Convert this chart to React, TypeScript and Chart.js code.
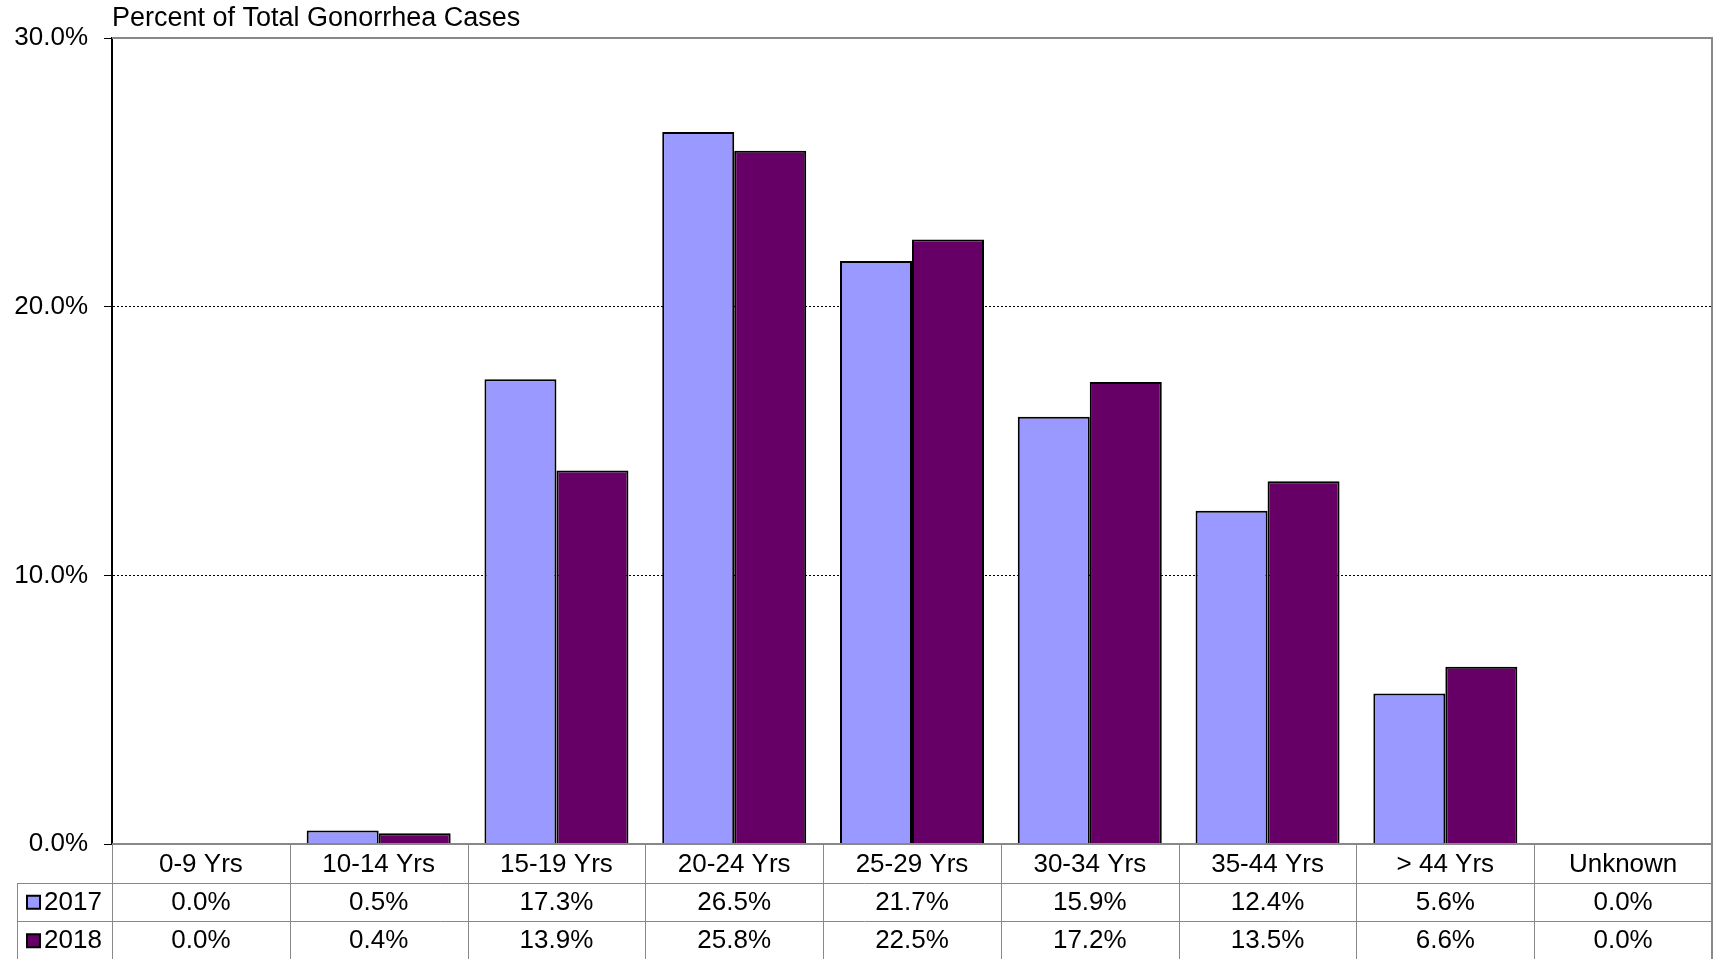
import React, { useEffect, useRef } from 'react';
import { Chart, registerables } from 'chart.js';

Chart.register(...registerables);

const categories = ['0-9 Yrs', '10-14 Yrs', '15-19 Yrs', '20-24 Yrs', '25-29 Yrs', '30-34 Yrs', '35-44 Yrs', '> 44 Yrs', 'Unknown'];
const values2017 = [0.0, 0.5, 17.3, 26.5, 21.7, 15.9, 12.4, 5.6, 0.0];
const values2018 = [0.0, 0.4, 13.9, 25.8, 22.5, 17.2, 13.5, 6.6, 0.0];
const seriesLabels = ['2017', '2018'];
const seriesColors = ['#9999FF', '#660066'];
const yTicks = [0, 10, 20, 30];
const titleText = 'Percent of Total Gonorrhea Cases';

const FONT = 'Arial, "Liberation Sans", Helvetica, sans-serif';
const GRAY = '#888888';
const FS = 26;

const tablePlugin = {
  id: 'dataTable',
  afterDraw(chart: any) {
    const { ctx, chartArea } = chart;
    const x = chart.scales.x;
    const left = chartArea.left;
    const right = chartArea.right;
    const top = chartArea.top;
    const bottom = chartArea.bottom;
    const rowH = 38.5;
    const labelLeft = 17;
    const H = chart.height;
    const series = [values2017, values2018];

    ctx.save();
    // plot border (top, right, bottom)
    ctx.strokeStyle = GRAY;
    ctx.lineWidth = 2;
    ctx.beginPath();
    ctx.moveTo(left, top);
    ctx.lineTo(right, top);
    ctx.lineTo(right, H);
    ctx.stroke();
    ctx.beginPath();
    ctx.moveTo(left, bottom);
    ctx.lineTo(right, bottom);
    ctx.stroke();

    // table grid
    ctx.lineWidth = 1;
    ctx.strokeStyle = GRAY;
    const catW = (right - left) / categories.length;
    for (let i = 0; i <= categories.length; i++) {
      const cx = Math.round(left + i * catW) + 0.5;
      ctx.beginPath();
      ctx.moveTo(cx, bottom);
      ctx.lineTo(cx, H);
      ctx.stroke();
    }
    for (let r = 1; r <= 2; r++) {
      const yy = Math.round(bottom + r * rowH) + 0.5;
      ctx.beginPath();
      ctx.moveTo(labelLeft, yy);
      ctx.lineTo(right, yy);
      ctx.stroke();
    }
    ctx.beginPath();
    ctx.moveTo(labelLeft + 0.5, Math.round(bottom + rowH));
    ctx.lineTo(labelLeft + 0.5, H);
    ctx.stroke();

    // text
    ctx.fillStyle = '#000';
    ctx.font = `${FS}px ${FONT}`;
    ctx.textAlign = 'center';
    ctx.textBaseline = 'middle';
    categories.forEach((c, i) => {
      const cx = x.getPixelForValue(i);
      ctx.fillText(c, cx, bottom + rowH / 2 + 2);
      series.forEach((vals, s) => {
        ctx.fillText(vals[i].toFixed(1) + '%', cx, bottom + rowH * (s + 1) + rowH / 2 + 1);
      });
    });

    // legend keys in table
    ctx.textAlign = 'left';
    seriesLabels.forEach((lab, s) => {
      const cy = bottom + rowH * (s + 1) + rowH / 2;
      ctx.fillStyle = seriesColors[s];
      ctx.fillRect(27, cy - 6, 13, 13);
      ctx.strokeStyle = '#000';
      ctx.lineWidth = 2;
      ctx.strokeRect(27, cy - 6, 13, 13);
      ctx.fillStyle = '#000';
      ctx.fillText(lab, 44, cy + 1);
    });

    // title
    ctx.font = `27px ${FONT}`;
    ctx.textAlign = 'left';
    ctx.textBaseline = 'middle';
    ctx.fillText(titleText, 112, 19);
    ctx.restore();
  },
};

export default function App() {
  const canvasRef = useRef<HTMLCanvasElement | null>(null);

  useEffect(() => {
    document.body.style.margin = '0';
    const canvas = canvasRef.current;
    if (!canvas) return;
    const chart = new Chart(canvas, {
      type: 'bar',
      data: {
        labels: categories,
        datasets: [
          {
            label: seriesLabels[0],
            data: values2017,
            backgroundColor: seriesColors[0],
            borderColor: '#000',
            borderWidth: 2,
          },
          {
            label: seriesLabels[1],
            data: values2018,
            backgroundColor: seriesColors[1],
            borderColor: '#000',
            borderWidth: 2,
          },
        ],
      },
      options: {
        animation: false,
        responsive: true,
        maintainAspectRatio: false,
        devicePixelRatio: 1,
        layout: { padding: { left: 0, top: 38, right: 2, bottom: 115 } },
        datasets: { bar: { categoryPercentage: 0.81, barPercentage: 1.0 } },
        plugins: {
          legend: { display: false },
          title: { display: false },
          tooltip: { enabled: false },
        },
        scales: {
          x: {
            display: false,
            offset: true,
          },
          y: {
            min: 0,
            max: 30,
            afterBuildTicks: (s: any) => {
              s.ticks = yTicks.map((v) => ({ value: v }));
            },
            afterFit: (s: any) => {
              s.width = 112;
            },
            ticks: {
              callback: (v: any) => Number(v).toFixed(1) + '%',
              font: { family: FONT, size: FS },
              color: '#000',
              padding: 16,
            },
            grid: {
              color: (c: any) =>
                c.tick && (c.tick.value === 0 || c.tick.value === 30) ? 'rgba(0,0,0,0)' : '#000',
              lineWidth: 1,
              tickLength: 8,
              tickColor: '#000',
              tickWidth: 1,
            },
            border: { display: true, color: '#000', width: 2, dash: [2, 2] },
          },
        },
      },
      plugins: [tablePlugin],
    });
    return () => chart.destroy();
  }, []);

  return (
    <div style={{ width: '1714px', height: '959px', position: 'relative', overflow: 'hidden' }}>
      <canvas ref={canvasRef} style={{ display: 'block' }} />
    </div>
  );
}
